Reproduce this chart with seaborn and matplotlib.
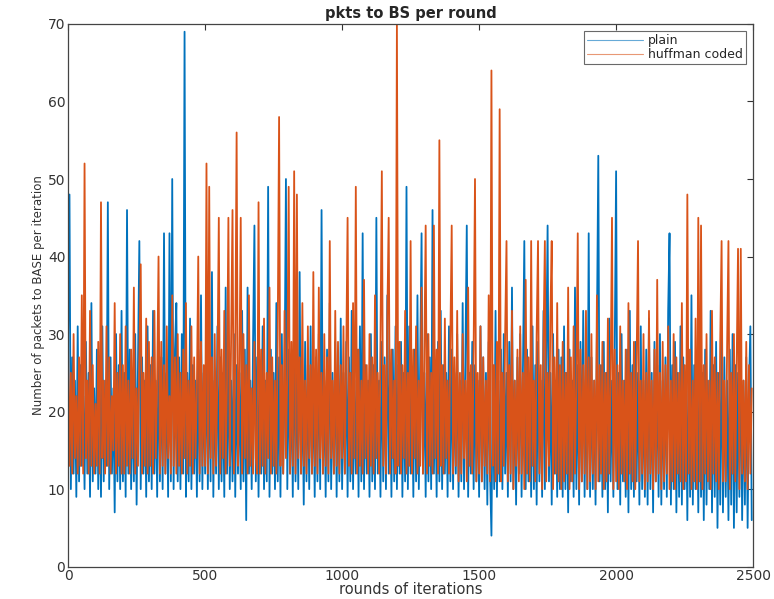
import numpy as np
import pandas as pd
import matplotlib
matplotlib.use("Agg")
import matplotlib.pyplot as plt
import seaborn as sns

STEP = 5  # rounds between samples

plain = [
    30,48,10,27,12,24,9,31,11,26,13,22,10,29,12,25,9,34,11,23,
    12,28,10,25,9,31,11,24,13,47,10,27,12,23,7,30,11,26,10,33,
    11,25,9,46,12,28,10,24,11,30,8,26,42,10,27,12,24,9,31,11,
    26,10,33,12,24,9,29,11,27,10,43,12,25,9,43,11,50,10,28,34,
    11,27,10,30,12,69,9,25,11,32,10,26,12,24,9,28,11,35,10,25,
    12,29,10,26,11,38,9,24,12,31,10,27,11,25,9,36,12,28,10,24,
    11,30,9,26,12,25,10,33,11,28,6,36,12,24,10,29,44,11,27,9,
    26,12,31,10,24,11,49,9,28,12,25,10,34,11,27,9,30,12,24,50,
    10,28,12,25,9,33,11,27,10,38,12,24,8,29,11,26,10,31,12,25,
    9,27,11,30,10,46,12,24,9,28,11,34,10,25,12,29,9,26,11,32,
    10,25,12,29,9,27,11,33,10,24,12,28,9,31,11,43,10,26,12,24,
    9,30,11,26,10,45,12,24,9,29,11,27,10,35,12,25,9,28,11,31,
    10,26,12,29,9,25,11,49,10,31,12,24,9,28,11,35,10,27,43,12,
    25,9,30,11,27,10,46,12,24,9,29,11,33,10,26,12,25,9,31,11,
    28,10,25,12,30,9,24,11,34,10,27,44,9,25,12,29,10,26,11,24,
    9,31,11,27,10,25,8,29,12,4,26,10,33,9,24,11,28,10,30,12,
    25,9,29,11,36,10,24,8,27,12,30,9,25,42,10,28,11,24,9,31,
    10,26,8,29,11,24,9,33,10,27,44,11,25,8,30,12,24,9,28,10,
    27,9,31,10,25,7,28,11,24,9,36,10,26,8,29,11,33,9,25,10,
    43,9,27,10,24,8,30,53,11,26,9,29,10,25,7,32,11,24,9,28,
    51,10,25,8,30,11,24,9,28,7,33,10,26,9,29,11,25,8,31,10,
    24,9,28,8,32,10,25,7,29,11,26,9,30,8,24,10,27,9,33,43,
    8,26,10,29,7,25,9,31,8,27,10,24,6,28,9,35,8,26,10,24,
    7,30,9,25,6,28,8,24,10,33,7,26,9,29,5,25,8,31,7,27,
    9,24,6,28,8,30,5,26,7,25,9,29,6,24,8,27,5,23,31,6,
]

huffman = [
    28,13,25,12,30,14,22,12,27,13,35,12,52,14,24,12,33,13,26,12,
    21,13,29,12,47,14,24,12,31,13,27,12,22,15,34,12,25,13,30,12,
    26,12,31,13,24,12,28,14,36,12,23,13,27,39,12,25,13,32,12,29,
    13,27,12,33,14,24,40,12,29,13,26,12,31,14,22,12,35,13,27,12,
    30,13,25,12,28,14,34,12,24,13,31,12,27,14,23,40,12,29,13,26,
    13,52,12,49,14,27,12,30,13,25,45,12,28,14,33,12,24,45,13,29,
    46,12,27,56,13,24,45,12,30,14,26,12,35,13,23,12,29,14,12,47,
    12,28,13,32,12,25,14,36,12,27,13,24,12,30,58,13,26,12,33,14,
    25,49,12,29,13,51,12,48,14,27,12,34,13,24,12,31,14,26,12,38,
    13,28,12,36,14,25,12,30,13,27,12,42,14,24,12,33,13,29,12,26,
    14,31,12,27,45,13,25,12,34,14,49,12,28,13,24,12,37,14,26,12,
    30,13,27,12,35,14,25,12,29,51,13,26,12,32,45,12,28,14,24,12,
    70,13,29,12,26,14,33,12,25,13,42,12,28,14,31,12,24,13,36,12,
    27,44,12,30,13,25,12,44,14,28,12,55,13,26,12,32,14,24,12,29,
    44,12,27,13,33,11,25,12,30,14,24,11,36,13,26,12,28,50,11,25,
    12,31,11,27,13,24,12,35,11,64,13,26,11,29,12,59,11,25,13,30,
    42,11,26,12,33,10,24,13,28,11,31,12,25,10,37,12,27,11,42,13,
    24,11,30,42,12,26,10,29,42,11,25,13,32,42,10,27,12,34,11,26,
    10,29,11,25,12,36,10,27,11,31,12,24,43,10,28,11,26,12,33,10,
    27,11,30,12,24,10,35,11,26,12,29,10,25,11,32,12,24,45,10,28,
    11,26,10,31,12,24,11,28,10,34,12,25,11,29,10,27,42,11,24,12,
    30,10,25,11,33,12,24,10,28,11,37,12,25,10,29,11,26,12,31,10,
    24,11,30,10,27,12,25,11,34,10,26,11,48,12,28,10,24,11,32,10,
    45,11,44,10,26,12,30,11,24,10,33,12,27,11,25,10,29,42,11,24,
    11,28,42,10,25,12,30,11,26,41,10,41,12,24,11,29,10,26,12,23,
]

rounds = np.arange(len(plain)) * STEP
series_names = ["plain", "huffman coded"]
colors = ["#0072BD", "#D95319"]

df = pd.DataFrame({
    "round": np.concatenate([rounds, rounds]),
    "pkts": plain + huffman,
    "series": [series_names[0]] * len(plain) + [series_names[1]] * len(huffman),
})

sns.set_style("white")
plt.rcParams["font.family"] = ["DejaVu Sans"]

fig = plt.figure(figsize=(7.74, 5.99), dpi=100)
ax = fig.add_axes([0.088, 0.054, 0.885, 0.906])

sns.lineplot(data=df, x="round", y="pkts", hue="series",
             palette=dict(zip(series_names, colors)),
             linewidth=1.3, estimator=None, ax=ax)

ax.set_xlim(0, 2500)
ax.set_ylim(0, 70)
ax.set_xticks([0, 500, 1000, 1500, 2000, 2500])
ax.set_yticks(range(0, 71, 10))
ax.tick_params(direction="in", top=True, right=True, length=4,
               labelsize=10, colors="#333333", width=0.8, pad=2)
for s in ax.spines.values():
    s.set_visible(True)
    s.set_color("#444444")
    s.set_linewidth(0.9)

ax.set_title("pkts to BS per round", fontsize=10.5, fontweight="bold", pad=4)
ax.set_xlabel("rounds of iterations", fontsize=10.5, color="#333333", labelpad=-1)
ax.set_ylabel("Number of packets to BASE per iteration", fontsize=8.5,
              color="#333333", labelpad=2)

leg = ax.legend(loc="upper right", fontsize=9, frameon=True, fancybox=False,
                handlelength=4.5, borderpad=0.2, labelspacing=0.1,
                handletextpad=0.4, borderaxespad=0.6)
leg.get_frame().set_edgecolor("#444444")
leg.get_frame().set_linewidth(0.8)
for line in leg.get_lines():
    line.set_linewidth(0.8)
    line.set_alpha(0.6)

fig.savefig("out.png", dpi=100, facecolor="white")
